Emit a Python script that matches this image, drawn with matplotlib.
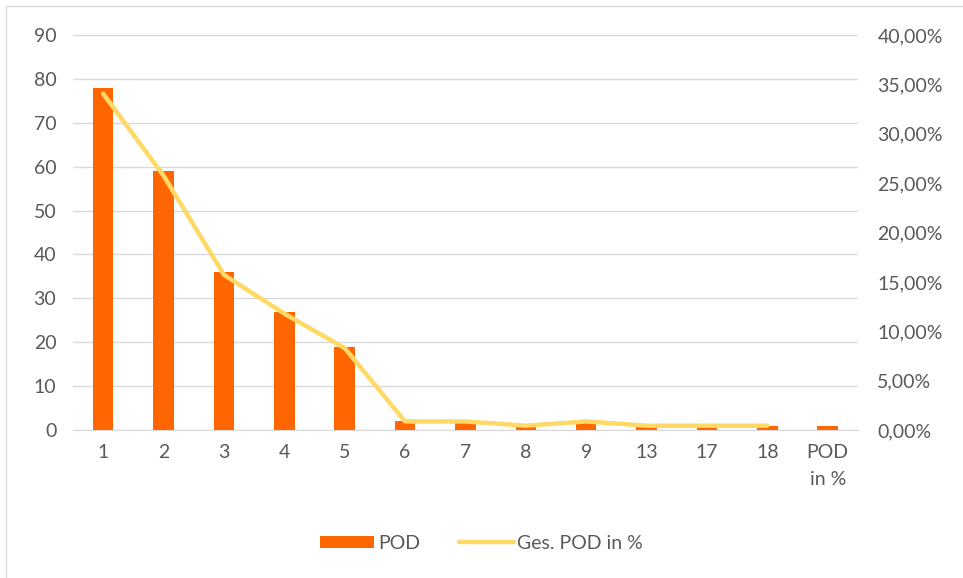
import numpy as np
import matplotlib.pyplot as plt
from matplotlib.patches import Rectangle

plt.rcParams['font.family'] = ['Lato', 'DejaVu Sans']

categories = ['1', '2', '3', '4', '5', '6', '7', '8', '9', '13', '17', '18', 'POD\nin %']
pod_counts = [78, 59, 36, 27, 19, 2, 2, 1, 2, 1, 1, 1, 1]
pod_percent = [34.06, 25.76, 15.72, 11.79, 8.30, 0.87, 0.87, 0.44, 0.87, 0.44, 0.44, 0.44]

bar_color = '#FF6600'
line_color = '#FFD966'
text_color = '#595959'

fig = plt.figure(figsize=(9.63, 5.78), dpi=100)
ax = fig.add_axes([0.0758, 0.256, 0.815, 0.6834])
ax2 = ax.twinx()

x = np.arange(len(categories))
ax.bar(x, pod_counts, width=0.34, color=bar_color, label='POD', zorder=2)
ax2.plot(x[:len(pod_percent)], pod_percent, color=line_color, lw=3.2,
         solid_capstyle='round', label='Ges. POD in %', zorder=3)

ax.set_xlim(-0.5, len(categories) - 0.5)
ax.set_ylim(0, 90)
ax.set_yticks(np.arange(0, 91, 10))
ax2.set_ylim(0, 40)
ax2.set_yticks(np.arange(0, 41, 5))
ax2.set_yticklabels([f'{v:.2f}%'.replace('.', ',') for v in np.arange(0, 41, 5)])

ax.set_xticks(x)
ax.set_xticklabels(categories, va='top', linespacing=1.75)
ax.grid(axis='y', color='#D9D9D9', lw=1, zorder=0)
ax.set_axisbelow(True)

for a in (ax, ax2):
    for s in a.spines.values():
        s.set_visible(False)
    a.tick_params(length=0, colors=text_color, labelsize=14)
ax.tick_params(axis='y', pad=12)
ax2.tick_params(axis='y', pad=14)
ax.tick_params(axis='x', pad=10)
ax.spines['bottom'].set_visible(True)
ax.spines['bottom'].set_color('#D9D9D9')

# line axis drawn on top of the bars
ax2.set_zorder(ax.get_zorder() + 1)
ax2.patch.set_visible(False)

h1, l1 = ax.get_legend_handles_labels()
h2, l2 = ax2.get_legend_handles_labels()
fig.legend(h1 + h2, l1 + l2, loc='center', bbox_to_anchor=(0.5, 0.06), ncol=2,
           frameon=False, fontsize=14, labelcolor=text_color,
           handlelength=2.8, handleheight=0.55, columnspacing=2.0, handletextpad=0.2)

fig.patches.append(Rectangle((0.006, -0.01), 1.0, 1.0, transform=fig.transFigure,
                             fill=False, edgecolor='#D9D9D9', lw=1))

fig.savefig('out.png', dpi=100, facecolor='white')
